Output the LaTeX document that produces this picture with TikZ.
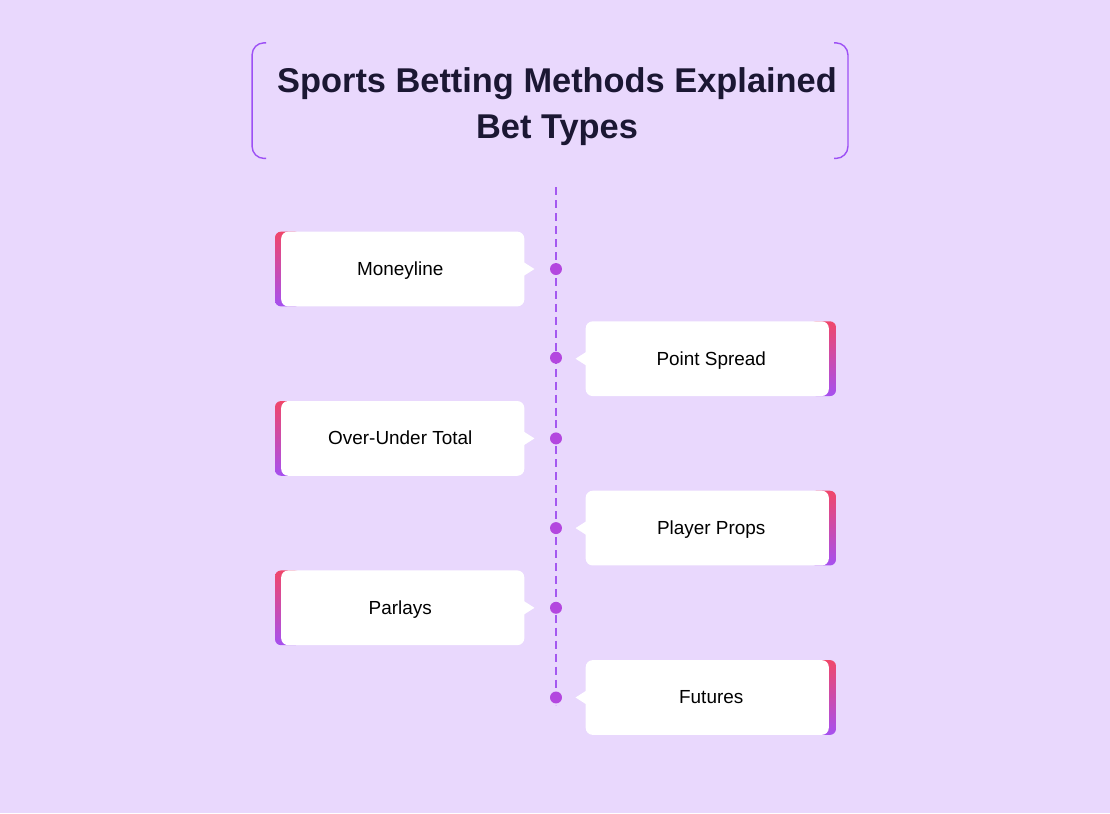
\documentclass[tikz,border=0pt]{standalone}
\usepackage{fontspec}
\setmainfont{Liberation Sans}
\usetikzlibrary{calc}
\definecolor{bgc}{HTML}{E9D8FD}
\definecolor{accR}{HTML}{F0476A}
\definecolor{accP}{HTML}{A650F0}
\definecolor{dotc}{HTML}{B347DF}
\definecolor{linec}{HTML}{A458F0}
\definecolor{brkc}{HTML}{9D50F5}
\definecolor{titc}{HTML}{1B1733}
\begin{document}
\begin{tikzpicture}[x=1pt,y=-1pt,
  card/.style={fill=white, rounded corners=7pt, minimum width=244pt, minimum height=75pt, inner sep=0pt, font=\fontsize{19}{22}\selectfont, text=black, text depth=1pt},
  dotn/.style={circle, fill=dotc, minimum size=12pt, inner sep=0pt},
  titlen/.style={align=center, text=titc, font=\bfseries\fontsize{34.5}{46}\selectfont},
  brk/.style={draw=brkc, line width=1.4pt, rounded corners=12pt},
  tline/.style={draw=linec, line width=1.6pt, dash pattern=on 8pt off 5pt}]
\fill[bgc] (-2,-2) rectangle (1112,814);
\useasboundingbox (0,0) rectangle (1110,812);
% title
\draw[brk] (265,41) -- (251,41) -- (251,157) -- (265,157);
\draw[brk] (835,41) -- (849,41) -- (849,157) -- (835,157);
\node[titlen] (title) at (557,105) {Sports Betting Methods Explained\\Bet Types};
% timeline
\coordinate (ltop) at (556,186);
\coordinate (lbot) at (556,706);
\draw[tline] (ltop) -- (lbot);
% left cards
\foreach \n/\y/\t in {c1/268/Moneyline, c3/438/Over-Under Total, c5/608/Parlays}{
  \shade[top color=accR, bottom color=accP, rounded corners=6pt] (274,\y-37.5) rectangle (300,\y+37.5);
  \node[card, anchor=west] (\n) at (280,\y) {\hspace*{-5pt}\t};
  \fill[white] ($(\n.east)+(-1,-7)$) -- ($(\n.east)+(10,0)$) -- ($(\n.east)+(-1,7)$) -- cycle;
}
% right cards
\foreach \n/\y/\t in {c2/358/Point Spread, c4/528/Player Props, c6/698/Futures}{
  \shade[top color=accR, bottom color=accP, rounded corners=6pt] (811,\y-37.5) rectangle (837,\y+37.5);
  \node[card, anchor=east] (\n) at (830,\y) {\hspace*{8pt}\t};
  \fill[white] ($(\n.west)+(1,-7)$) -- ($(\n.west)+(-10,0)$) -- ($(\n.west)+(1,7)$) -- cycle;
}
% dots
\foreach \n/\y in {d1/268,d2/357,d3/438,d4/528,d5/608,d6/698}{
  \node[dotn] (\n) at (556,\y) {};
}
\end{tikzpicture}
\end{document}
